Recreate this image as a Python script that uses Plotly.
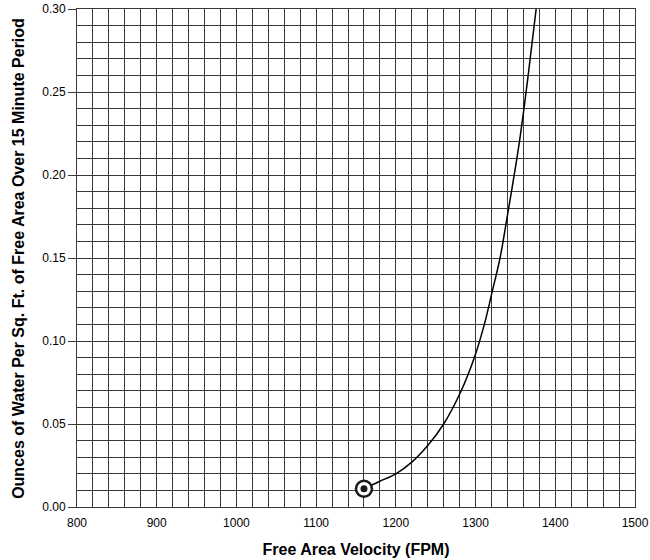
import plotly.graph_objects as go

velocity = [1160, 1180, 1200, 1220, 1240, 1260, 1282, 1298.5, 1311, 1321, 1330.7, 1338, 1355, 1366, 1376]
ounces = [0.011, 0.0155, 0.020, 0.027, 0.037, 0.050, 0.070, 0.090, 0.110, 0.130, 0.150, 0.170, 0.220, 0.260, 0.300]

marker_x = [1160]
marker_y = [0.011]

x_ticks = [800, 900, 1000, 1100, 1200, 1300, 1400, 1500]
y_ticks = [0.00, 0.05, 0.10, 0.15, 0.20, 0.25, 0.30]

y_title = "Ounces of Water Per Sq. Ft. of Free Area Over 15 Minute Period"
x_title = "Free Area Velocity (FPM)"

font_family = "Liberation Sans, Arial, sans-serif"
grid_color = "#3a3a3a"

fig = go.Figure()
fig.add_trace(go.Scatter(
    x=velocity, y=ounces, mode="lines",
    line=dict(color="black", width=1.5, shape="spline", smoothing=1.0),
    showlegend=False, hoverinfo="skip",
))
fig.add_trace(go.Scatter(
    x=marker_x, y=marker_y, mode="markers",
    marker=dict(symbol="circle", size=16, color="white",
                line=dict(color="#1a1a1a", width=2.5)),
    showlegend=False, hoverinfo="skip",
))
fig.add_trace(go.Scatter(
    x=marker_x, y=marker_y, mode="markers",
    marker=dict(symbol="circle", size=7, color="#1a1a1a", line=dict(width=0)),
    showlegend=False, hoverinfo="skip",
))

fig.update_layout(
    width=650, height=560,
    margin=dict(l=77, r=15, t=9, b=53, autoexpand=False),
    paper_bgcolor="white", plot_bgcolor="white",
    font=dict(family=font_family, color="black", size=12),
    xaxis=dict(
        range=[800, 1500], tickvals=x_ticks,
        ticktext=[str(v) for v in x_ticks],
        showgrid=True, gridcolor=grid_color, gridwidth=1,
        minor=dict(dtick=20, tick0=800, showgrid=True, gridcolor=grid_color, gridwidth=1),
        showline=True, linecolor=grid_color, linewidth=1, mirror=True,
        ticks="", zeroline=False,
        tickfont=dict(size=12), ticklabelstandoff=5,
        title=dict(text="<b>" + x_title + "</b>", font=dict(size=16), standoff=14),
        automargin=False,
        fixedrange=True,
    ),
    yaxis=dict(
        range=[0, 0.30], tickvals=y_ticks,
        ticktext=["%.2f" % v for v in y_ticks],
        showgrid=True, gridcolor=grid_color, gridwidth=1,
        minor=dict(dtick=0.01, tick0=0, showgrid=True, gridcolor=grid_color, gridwidth=1),
        showline=True, linecolor=grid_color, linewidth=1, mirror=True,
        ticks="outside", ticklen=8, tickcolor=grid_color,
        zeroline=False,
        tickfont=dict(size=12),
        automargin=False,
        fixedrange=True,
    ),
    annotations=[dict(
        text="<b>" + y_title + "</b>", textangle=-90,
        xref="paper", yref="paper", x=-0.106, y=0.5,
        xanchor="center", yanchor="middle", showarrow=False,
        font=dict(size=16, family=font_family, color="black"),
    )],
)

fig.write_html("out.html", config={"displayModeBar": False},
               post_script="document.body.style.margin='0';")
